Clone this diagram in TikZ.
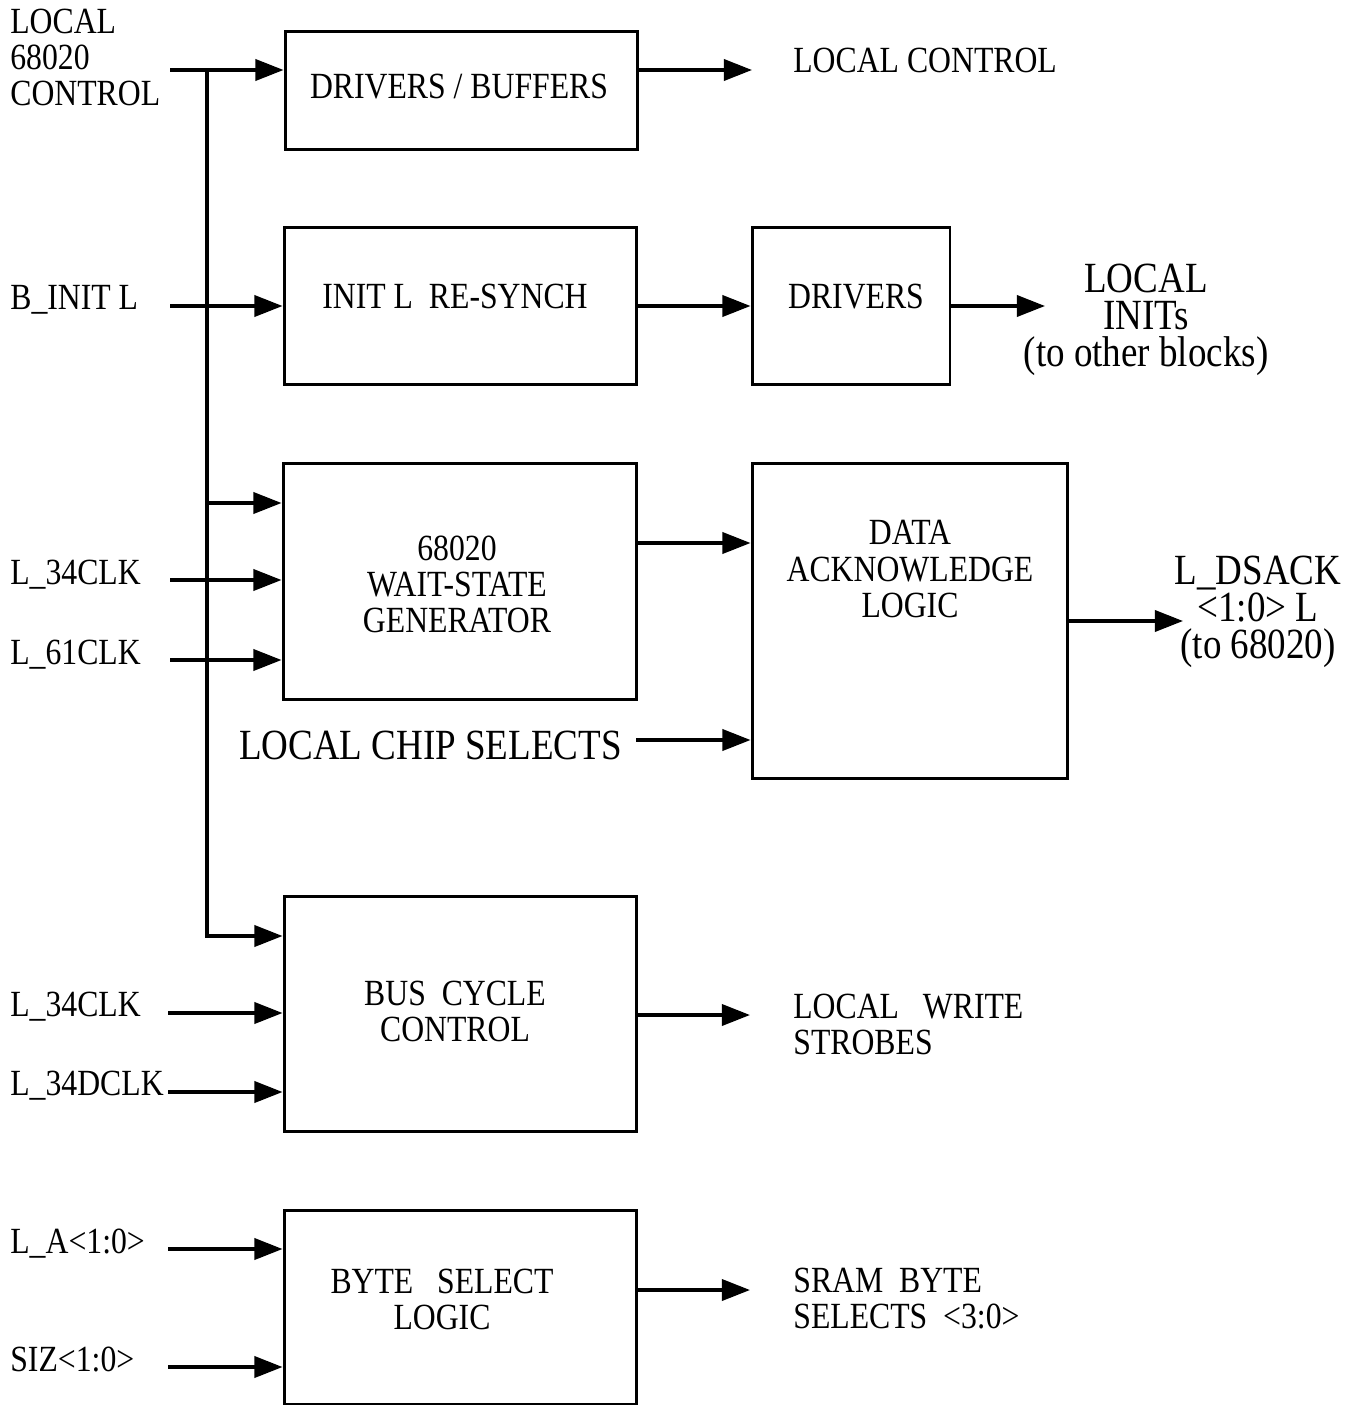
\documentclass[tikz,border=0pt]{standalone}
\usepackage{fontspec}
\setmainfont{Liberation Serif}[FakeStretch=0.86]
\usetikzlibrary{arrows.meta}
\newcommand{\fa}{\fontsize{21}{20.5}\selectfont}
\newcommand{\fb}{\fontsize{24.5}{21}\selectfont}
\begin{document}
\begin{tikzpicture}[x=0.02cm,y=-0.02cm,
  blk/.style={draw, line width=1.7pt, inner sep=0pt},
  arr/.style={line width=2pt, -{Triangle[length=16pt,width=12pt]}},
  txt/.style={inner sep=0pt, font=\fa},
  big/.style={inner sep=0pt, font=\fb}]
\useasboundingbox (0,0) rectangle (1357,1406);

% blocks
\node[blk, minimum width=7.06cm, minimum height=2.38cm] (b1) at (461.5,90.5) {};
\node[blk, minimum width=7.06cm, minimum height=3.16cm] (b2) at (460.5,306) {};
\node[blk, minimum width=3.96cm, minimum height=3.16cm] (b3) at (851,306) {};
\node[blk, minimum width=7.08cm, minimum height=4.74cm] (b4) at (460,581.5) {};
\node[blk, minimum width=6.32cm, minimum height=6.32cm] (b5) at (910,621) {};
\node[blk, minimum width=7.06cm, minimum height=4.72cm] (b6) at (460.5,1014) {};
\node[blk, minimum width=7.06cm, minimum height=3.88cm] (b7) at (460.5,1307) {};

% block texts
\node[txt, anchor=base] (t1) at (459,99) {DRIVERS / BUFFERS};
\node[txt, anchor=base] (t2) at (455,308) {INIT L\ \ RE-SYNCH};
\node[txt, anchor=base] (t3) at (856,308) {DRIVERS};
\node[txt, align=center] (t4) at (457,584) {68020\\WAIT-STATE\\GENERATOR};
\node[txt, align=center] (t5) at (910,569) {DATA\\ACKNOWLEDGE\\LOGIC};
\node[txt, align=center] (t6) at (455,1011) {BUS\ \ CYCLE\\CONTROL};
\node[txt, align=center] (t7) at (442,1299) {BYTE\ \ \ SELECT\\LOGIC};

% left labels
\node[txt, align=left, anchor=west] (lctl) at (10,57) {LOCAL\\68020\\CONTROL};
\node[txt, anchor=base west] (lbinit) at (10,309) {B\_INIT L};
\node[txt, anchor=base west] (l34a) at (10,584) {L\_34CLK};
\node[txt, anchor=base west] (l61) at (10,664) {L\_61CLK};
\node[txt, anchor=base west] (l34b) at (10,1016) {L\_34CLK};
\node[txt, anchor=base west] (l34d) at (10,1095) {L\_34DCLK};
\node[txt, anchor=base west] (la) at (10,1253) {L\_A<1:0>};
\node[txt, anchor=base west] (lsiz) at (10,1371) {SIZ<1:0>};
\node[big, anchor=base east] (lcs) at (622,759) {LOCAL CHIP SELECTS};

% right labels
\node[txt, anchor=base west] (rctl) at (793,72) {LOCAL CONTROL};
\node[big, align=center] (rinit) at (1146,320) {LOCAL\\INITs\\(to other blocks)};
\node[big, align=center] (rdsack) at (1258,612) {L\_DSACK\\<1:0> L\\(to 68020)};
\node[txt, align=left, anchor=west] (rws) at (793,1024) {LOCAL\ \ \ WRITE\\STROBES};
\node[txt, align=left, anchor=west] (rsram) at (793,1299) {SRAM\ \ BYTE\\SELECTS\ \ <3:0>};

% coordinates
\coordinate (in1) at (170,70);
\coordinate (bt) at (207,70);
\coordinate (bm) at (207,503);
\coordinate (bb) at (207,936);
\coordinate (in2) at (170,306);
\coordinate (in3) at (170,580);
\coordinate (in4) at (170,660);
\coordinate (in5) at (168,1013);
\coordinate (in6) at (168,1092);
\coordinate (in7) at (168,1249);
\coordinate (in8) at (168,1367);
\coordinate (cs) at (636,740);
\coordinate (m45) at (0,543);
\coordinate (o1) at (752,70);
\coordinate (o3) at (1045,306);
\coordinate (o5) at (1183,621);
\coordinate (o6) at (750,1015);
\coordinate (o7) at (750,1290);

% connectors
\draw[arr] (in1) -- (b1.west |- in1);
\draw[arr] (bt) -- (bb) -- (b6.west |- bb);
\draw[arr] (bm) -- (b4.west |- bm);
\draw[arr] (in2) -- (b2.west |- in2);
\draw[arr] (in3) -- (b4.west |- in3);
\draw[arr] (in4) -- (b4.west |- in4);
\draw[arr] (in5) -- (b6.west |- in5);
\draw[arr] (in6) -- (b6.west |- in6);
\draw[arr] (in7) -- (b7.west |- in7);
\draw[arr] (in8) -- (b7.west |- in8);

\draw[arr] (b1.east |- o1) -- (o1);
\draw[arr] (b2.east) -- (b3.west);
\draw[arr] (b3.east) -- (o3);
\draw[arr] (b4.east |- m45) -- (b5.west |- m45);
\draw[arr] (cs) -- (b5.west |- cs);
\draw[arr] (b5.east) -- (o5);
\draw[arr] (b6.east |- o6) -- (o6);
\draw[arr] (b7.east |- o7) -- (o7);
\end{tikzpicture}
\end{document}
